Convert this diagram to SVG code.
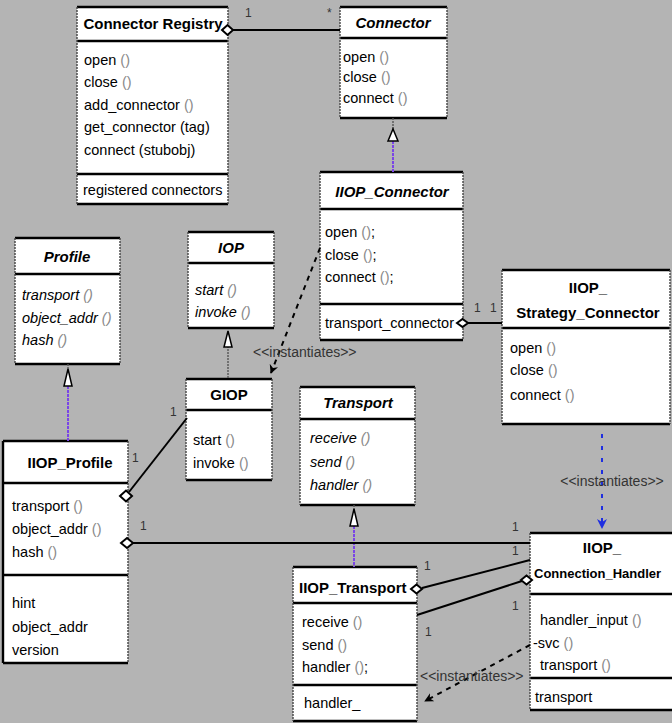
<svg xmlns="http://www.w3.org/2000/svg" width="672" height="723" viewBox="0 0 672 723">
<style>
.bg{fill:#b4b4b4}
.box{fill:#fff;stroke:none}
.hl{stroke:#000;stroke-width:2.4;fill:none}
.vl{stroke:#444;stroke-width:1.4;stroke-dasharray:2 1;fill:none}
.t{font-family:"Liberation Sans",Arial,sans-serif;font-size:14.5px;fill:#000}
.h{font-family:"Liberation Sans",Arial,sans-serif;font-size:15px;font-weight:bold;fill:#000}
.c{text-anchor:middle}
.i{font-style:italic}
.p{fill:#8a8a8a}
.lab{font-family:"Liberation Sans",Arial,sans-serif;font-size:12px;fill:#333}
.st{font-family:"Liberation Sans",Arial,sans-serif;font-size:14px;fill:#333}
.ln{stroke:#000;stroke-width:2;fill:none}
.dash{stroke:#000;stroke-width:2;stroke-dasharray:5 5;fill:none}
.gdash{stroke:#555;stroke-width:1.4;stroke-dasharray:2 1;fill:none}
.pur{stroke:#7a45e6;stroke-width:2;stroke-dasharray:3 1;fill:none}
.blue{stroke:#1f2fe0;stroke-width:2;stroke-dasharray:4 8;fill:none}
.dia{fill:#fff;stroke:#000;stroke-width:2}
.tri{fill:#fff;stroke:#000;stroke-width:1.5}
</style>
<defs>
<marker id="arr" viewBox="0 0 10 10" refX="9" refY="5" markerWidth="9" markerHeight="9" orient="auto" markerUnits="userSpaceOnUse">
<path d="M0,0 L10,5 L0,10 L3,5 z" fill="#000"/>
</marker>
<marker id="arrb" viewBox="0 0 10 10" refX="9" refY="5" markerWidth="10" markerHeight="10" orient="auto" markerUnits="userSpaceOnUse">
<path d="M0,0 L10,5 L0,10 L3,5 z" fill="#1f2fe0"/>
</marker>
</defs>
<rect class="bg" x="0" y="0" width="672" height="723"/>

<g id="connector-registry">
<rect class="box" x="77" y="7" width="151" height="197"/>
<path class="hl" d="M77,7H228M77,41H228M77,174H228M77,204H228"/>
<path class="vl" d="M77,7V204M228,7V204"/>
<text class="h c" x="153" y="29">Connector Registry</text>
<text class="t" x="84" y="65">open <tspan class="p">()</tspan></text>
<text class="t" x="84" y="87">close <tspan class="p">()</tspan></text>
<text class="t" x="84" y="110">add_connector <tspan class="p">()</tspan></text>
<text class="t" x="84" y="132">get_connector (tag)</text>
<text class="t" x="84" y="155">connect (stubobj)</text>
<text class="t" x="83" y="195">registered connectors</text>
</g>

<g id="connector">
<rect class="box" x="340" y="7" width="107" height="111"/>
<path class="hl" d="M340,7H447M340,38H447M340,118H447"/>
<path class="vl" d="M340,7V118M447,7V118"/>
<text class="h c i" x="393" y="28">Connector</text>
<text class="t" x="343" y="62">open <tspan class="p">()</tspan></text>
<text class="t" x="343" y="82">close <tspan class="p">()</tspan></text>
<text class="t" x="343" y="103">connect <tspan class="p">()</tspan></text>
</g>

<g id="iiop-connector">
<rect class="box" x="320" y="172" width="143" height="168"/>
<path class="hl" d="M320,172H463M320,209H463M320,304H463M320,340H463"/>
<path class="vl" d="M320,172V340M463,172V340"/>
<text class="h c i" x="392" y="197">IIOP_Connector</text>
<text class="t" x="325" y="237">open <tspan class="p">()</tspan>;</text>
<text class="t" x="325" y="260">close <tspan class="p">()</tspan>;</text>
<text class="t" x="325" y="282">connect <tspan class="p">()</tspan>;</text>
<text class="t" x="325" y="328">transport_connector</text>
</g>

<g id="iiop-strategy-connector">
<rect class="box" x="502" y="270" width="168" height="154"/>
<path class="hl" d="M502,270H670M502,328H670M502,424H670"/>
<path class="vl" d="M502,270V424M670,270V424"/>
<text class="h c" x="588" y="293">IIOP_</text>
<text class="h c" x="588" y="318">Strategy_Connector</text>
<text class="t" x="510" y="353">open <tspan class="p">()</tspan></text>
<text class="t" x="510" y="375">close <tspan class="p">()</tspan></text>
<text class="t" x="510" y="400">connect <tspan class="p">()</tspan></text>
</g>

<g id="profile">
<rect class="box" x="15" y="238" width="105" height="126"/>
<path class="hl" d="M15,238H120M15,274H120M15,364H120"/>
<path class="vl" d="M15,238V364M120,238V364"/>
<text class="h c i" x="67" y="262">Profile</text>
<text class="t i" x="22" y="300">transport <tspan class="p">()</tspan></text>
<text class="t i" x="22" y="323">object_addr <tspan class="p">()</tspan></text>
<text class="t i" x="22" y="345">hash <tspan class="p">()</tspan></text>
</g>

<g id="iop">
<rect class="box" x="188" y="232" width="86" height="96"/>
<path class="hl" d="M188,232H274M188,263H274M188,328H274"/>
<path class="vl" d="M188,232V328M274,232V328"/>
<text class="h c i" x="231" y="253">IOP</text>
<text class="t i" x="195" y="295">start <tspan class="p">()</tspan></text>
<text class="t i" x="195" y="317">invoke <tspan class="p">()</tspan></text>
</g>

<g id="giop">
<rect class="box" x="186" y="379" width="86" height="101"/>
<path class="hl" d="M186,379H272M186,410H272M186,480H272"/>
<path class="vl" d="M186,379V480M272,379V480"/>
<text class="h c" x="229" y="400">GIOP</text>
<text class="t" x="193" y="445">start <tspan class="p">()</tspan></text>
<text class="t" x="193" y="468">invoke <tspan class="p">()</tspan></text>
</g>

<g id="iiop-profile">
<rect class="box" x="3" y="441" width="125" height="222"/>
<path class="hl" d="M3,441H128M3,483H128M3,575H128M3,663H128M3,441V663"/>
<path class="vl" d="M128,441V663"/>
<text class="h c" x="70" y="468">IIOP_Profile</text>
<text class="t" x="12" y="511">transport <tspan class="p">()</tspan></text>
<text class="t" x="12" y="534">object_addr <tspan class="p">()</tspan></text>
<text class="t" x="12" y="557">hash <tspan class="p">()</tspan></text>
<text class="t" x="12" y="608">hint</text>
<text class="t" x="12" y="632">object_addr</text>
<text class="t" x="12" y="655">version</text>
</g>

<g id="transport">
<rect class="box" x="300" y="387" width="115" height="118"/>
<path class="hl" d="M300,387H415M300,419H415M300,505H415"/>
<path class="vl" d="M300,387V505M415,387V505"/>
<text class="h c i" x="358" y="408">Transport</text>
<text class="t i" x="310" y="443">receive <tspan class="p">()</tspan></text>
<text class="t i" x="310" y="467">send <tspan class="p">()</tspan></text>
<text class="t i" x="310" y="490">handler <tspan class="p">()</tspan></text>
</g>

<g id="iiop-transport">
<rect class="box" x="293" y="567" width="124" height="154"/>
<path class="hl" d="M293,567H417M293,603H417M293,685H417M293,721H417"/>
<path class="vl" d="M293,567V721M417,567V721"/>
<text class="h" x="299" y="593">IIOP_Transport</text>
<text class="t" x="302" y="627">receive <tspan class="p">()</tspan></text>
<text class="t" x="302" y="650">send <tspan class="p">()</tspan></text>
<text class="t" x="302" y="672">handler <tspan class="p">()</tspan>;</text>
<text class="t" x="304" y="708">handler_</text>
</g>

<g id="iiop-connection-handler">
<rect class="box" x="530" y="533" width="142" height="177"/>
<path class="hl" d="M530,533H672M530,594H672M530,678H672M530,710H672"/>
<path class="vl" d="M530,533V710"/>
<text class="h c" x="602" y="553">IIOP_</text>
<text class="h" x="534" y="578" style="font-size:13px">Connection_Handler</text>
<text class="t" x="540" y="625">handler_input <tspan class="p">()</tspan></text>
<text class="t" x="533" y="648">-svc <tspan class="p">()</tspan></text>
<text class="t" x="540" y="670">transport <tspan class="p">()</tspan></text>
<text class="t" x="535" y="702">transport</text>
</g>

<g id="connectors">
<path class="ln" d="M233,30H340"/>
<path class="dia" d="M222,30L227.5,25L233,30L227.5,35z"/>
<text class="lab" x="245" y="17">1</text>
<text class="lab" x="327" y="17">*</text>
<path class="gdash" d="M393,118V129"/>
<path class="pur" d="M393,141V172"/>
<path class="tri" d="M393,129L398,141H388z"/>
<path class="dash" d="M320,248L271,373" marker-end="url(#arr)"/>
<text class="st" x="253" y="357">&lt;&lt;instantiates&gt;&gt;</text>
<path class="ln" d="M468,323H502"/>
<path class="dia" d="M457,323L462.5,319L468,323L462.5,327z"/>
<text class="lab" x="474" y="312">1</text>
<text class="lab" x="490" y="312">1</text>
<path class="gdash" d="M68,364V370"/>
<path class="pur" d="M68,386V441"/>
<path class="tri" d="M68,369L72,386H64z"/>
<path class="gdash" d="M228,346V379"/>
<path class="tri" d="M228,331L232,347H224z"/>
<path class="gdash" d="M354,505V510"/>
<path class="pur" d="M354,526V567"/>
<path class="tri" d="M354,509L358,526H350z"/>
<path class="ln" d="M129,492L187,418"/>
<path class="dia" d="M120,496L126,490.5L132,496L126,501.5z"/>
<text class="lab" x="170" y="416">1</text>
<text class="lab" x="132" y="462">1</text>
<path class="ln" d="M133,543H530"/>
<path class="dia" d="M121,543L127,538L133,543L127,548z"/>
<text class="lab" x="140" y="530">1</text>
<text class="lab" x="512" y="531">1</text>
<path class="ln" d="M422,588L530,560"/>
<path class="dia" d="M411,589L416.5,584.5L422,589L416.5,593.5z"/>
<text class="lab" x="424" y="570">1</text>
<text class="lab" x="512" y="555">1</text>
<path class="ln" d="M417,615L522,581"/>
<path class="dia" d="M521,580L526.5,575.5L532,580L526.5,584.5z"/>
<text class="lab" x="425" y="636">1</text>
<text class="lab" x="512" y="610">1</text>
<path class="dash" d="M530,645L425,701" marker-end="url(#arr)"/>
<text class="st" x="420" y="681">&lt;&lt;instantiates&gt;&gt;</text>
<path class="blue" d="M602,434V528" marker-end="url(#arrb)"/>
<text class="st c" x="612" y="486">&lt;&lt;instantiates&gt;&gt;</text>
</g>
</svg>
